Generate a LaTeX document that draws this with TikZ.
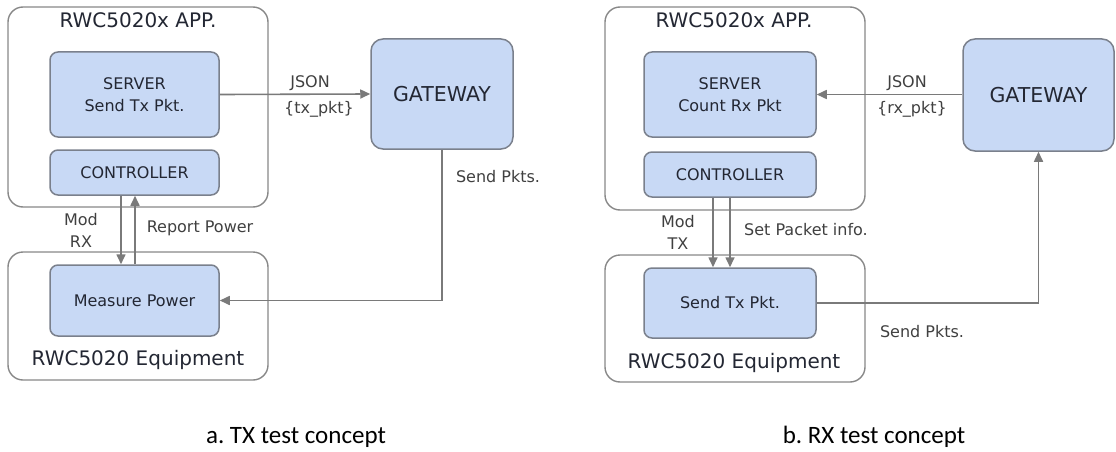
\documentclass[tikz,border=0pt]{standalone}
\usepackage{fontspec}
\setmainfont{DejaVu Sans}
\newfontfamily\capfont{Carlito}
\usetikzlibrary{arrows.meta,calc}
\definecolor{boxfill}{HTML}{C8D9F5}
\definecolor{boxline}{HTML}{7A808C}
\definecolor{outline}{HTML}{888888}
\definecolor{wire}{HTML}{7A7A7A}
\definecolor{txt}{HTML}{232733}
\definecolor{lbl}{HTML}{404040}
\tikzset{
  outerbox/.style={draw=outline, line width=1.4pt, rounded corners=15pt, fill=white},
  innerbox/.style={draw=boxline, line width=1.5pt, rounded corners=8pt, fill=boxfill,
     text=txt, font=\fontsize{16}{22}\selectfont, align=center, inner sep=0pt},
  gwbox/.style={draw=boxline, line width=1.5pt, rounded corners=12pt, fill=boxfill,
     text=txt, font=\fontsize{20.5}{24}\selectfont, inner sep=0pt},
  title/.style={text=txt, font=\fontsize{20}{24}\selectfont, anchor=base, inner sep=0pt},
  lab/.style={text=lbl, font=\fontsize{16}{22}\selectfont, anchor=base, inner sep=0pt},
  capt/.style={text=black, font=\capfont\fontsize{25}{28}\selectfont, anchor=base, inner sep=0pt},
  arr/.style={draw=wire, line width=1.6pt, -{Triangle[length=10pt,width=9pt]}},
  wireline/.style={draw=wire, line width=1.6pt}
}
\begin{document}
\begin{tikzpicture}[x=1pt,y=-1pt]
\frenchspacing
\useasboundingbox (0,0) rectangle (1116,452);
% ---------- panel a ----------
\node[outerbox, minimum width=260pt, minimum height=200pt] (appA) at (138,107) {};
\node[outerbox, minimum width=260pt, minimum height=128pt] (eqA) at (138,316) {};
\node[title] (tA) at (138,28) {RWC5020x APP.};
\node[title] (eqtA) at (138,365) {RWC5020 Equipment};
\node[innerbox, minimum width=169pt, minimum height=85pt] (srvA) at (134.5,94.5) {SERVER\\Send Tx Pkt.};
\node[innerbox, minimum width=169pt, minimum height=45pt] (ctlA) at (134.5,172.5) {CONTROLLER};
\node[innerbox, minimum width=169pt, minimum height=71pt] (mpA) at (134.5,300.5) {Measure Power};
\node[gwbox, minimum width=142pt, minimum height=110pt] (gwA) at (442,94) {GATEWAY};
\draw[arr] (srvA.east) -- (gwA.west);
\draw[arr] ([xshift=-13.5pt]ctlA.south) -- ([xshift=-13.5pt]mpA.north);
\draw[arr] ([xshift=0.5pt]mpA.north) -- ([xshift=0.5pt]ctlA.south);
\draw[arr] (gwA.south) |- (mpA.east);
\node[lab] (jsA) at (310,87) {JSON};
\node[lab] (pkA) at (319,113) {\{tx\_pkt\}};
\node[lab] (spA) at (498,182) {Send Pkts.};
\node[lab] (modA) at (81,225) {Mod};
\node[lab] (rxA) at (81,247) {RX};
\node[lab] (rpA) at (200,232) {Report Power};
\node[capt] (capA) at (296,443) {a. TX test concept};
% ---------- panel b ----------
\node[outerbox, minimum width=260pt, minimum height=203pt] (appB) at (735,108.5) {};
\node[outerbox, minimum width=260pt, minimum height=127pt] (eqB) at (735,318.5) {};
\node[title] (tB) at (734,28) {RWC5020x APP.};
\node[title] (eqtB) at (734,368) {RWC5020 Equipment};
\node[innerbox, minimum width=172pt, minimum height=85pt] (srvB) at (730,94.5) {SERVER\\Count Rx Pkt};
\node[innerbox, minimum width=172pt, minimum height=45pt] (ctlB) at (730,174.5) {CONTROLLER};
\node[innerbox, minimum width=172pt, minimum height=70pt] (stB) at (730,303) {Send Tx Pkt.};
\node[gwbox, minimum width=151pt, minimum height=112pt] (gwB) at (1038.5,95) {GATEWAY};
\draw[arr] (gwB.west |- srvB.east) -- (srvB.east);
\draw[arr] ([xshift=-17pt]ctlB.south) -- ([xshift=-17pt]stB.north);
\draw[arr] (ctlB.south) -- (stB.north);
\draw[arr] (stB.east) -| (gwB.south);
\node[lab] (jsB) at (907,87) {JSON};
\node[lab] (pkB) at (912,113) {\{rx\_pkt\}};
\node[lab] (spB) at (922,337) {Send Pkts.};
\node[lab] (modB) at (678,227) {Mod};
\node[lab] (txB) at (678,249) {TX};
\node[lab] (siB) at (806,235) {Set Packet info.};
\node[capt] (capB) at (874,443) {b. RX test concept};
\end{tikzpicture}
\end{document}
